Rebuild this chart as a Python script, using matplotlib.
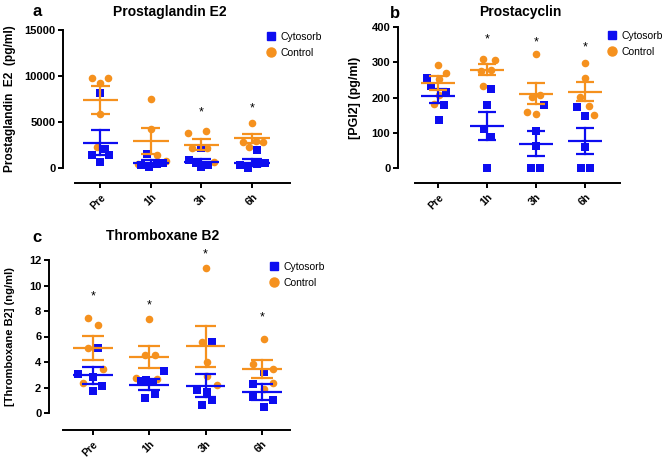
import matplotlib
matplotlib.use("Agg")
import matplotlib.pyplot as plt
from matplotlib.lines import Line2D

plt.rcParams['font.family'] = ['Liberation Sans', 'DejaVu Sans']

categories = ["Pre", "1h", "3h", "6h"]

# ---- Panel a: Prostaglandin E2 (pg/ml)
pge2_cyto = [[8190, 2030, 1410, 1410, 690],
             [1520, 330, 100, 430, 580],
             [2140, 870, 580, 110, 330],
             [1960, 330, 0, 430, 510]]
pge2_ctrl = [[9820, 9820, 9270, 5870, 2320],
             [7500, 4200, 1410, 430, 800],
             [3800, 4020, 2170, 2170, 650],
             [4860, 2860, 2860, 2250, 2900]]
pge2_cyto_mean = [2750, 560, 690, 580]
pge2_cyto_sem = [1380, 330, 340, 400]
pge2_ctrl_mean = [7390, 2930, 2530, 3230]
pge2_ctrl_sem = [1480, 1380, 620, 460]
pge2_stars = [None, None, 6040, 6500]

# ---- Panel b: Prostacyclin [PGI2] (pg/ml)
pgi2_cyto = [[256, 233, 216, 180, 137],
             [225, 178, 112, 88, 0],
             [178, 105, 61, 0, 0],
             [173, 148, 60, 0, 0]]
pgi2_ctrl = [[293, 270, 253, 206, 181],
             [310, 305, 279, 275, 232],
             [322, 201, 206, 159, 154],
             [298, 255, 201, 175, 149]]
pgi2_cyto_mean = [204, 119, 69, 77]
pgi2_cyto_sem = [21, 39, 35, 36]
pgi2_ctrl_mean = [241, 279, 211, 217]
pgi2_ctrl_sem = [21, 15, 30, 27]
pgi2_stars = [None, 365, 356, 343]

# ---- Panel c: Thromboxane B2 (ng/ml)
txb2_cyto = [[5.1, 3.09, 2.83, 2.1, 1.73],
             [3.3, 2.57, 2.5, 2.4, 1.2, 1.47],
             [5.53, 1.83, 1.65, 1.0, 0.6],
             [3.22, 2.3, 1.26, 1.0, 0.47]]
txb2_ctrl = [[7.47, 6.94, 5.1, 3.43, 2.36],
             [7.39, 4.58, 4.58, 2.78, 2.65],
             [11.4, 5.53, 4.0, 2.88, 2.23],
             [5.84, 3.82, 3.43, 2.38, 1.86]]
txb2_cyto_mean = [2.96, 2.23, 2.12, 1.65]
txb2_cyto_sem = [0.66, 0.42, 0.9, 0.64]
txb2_ctrl_mean = [5.08, 4.4, 5.22, 3.48]
txb2_ctrl_sem = [0.95, 0.85, 1.62, 0.7]
txb2_stars = [9.17, 8.46, 12.4, 7.47]

# ---- layout-only horizontal offsets of the dots (category units)
off_a_cyto = [[0, 0.1, -0.17, 0.17, 0], [-0.07, -0.2, -0.04, 0.12, 0.23],
              [0, -0.24, -0.1, 0, 0.12], [0.09, -0.24, -0.08, 0.09, 0.26]]
off_a_ctrl = [[-0.16, 0.16, 0, 0, -0.07], [0, 0, 0.12, -0.25, 0.3],
              [-0.26, 0.08, -0.18, 0.1, 0.24], [0, -0.17, 0.22, -0.07, 0.07]]
off_b_cyto = [[-0.22, -0.14, 0.17, 0.12, 0.02], [0.08, 0, -0.07, 0.08, 0],
              [0.16, 0, 0, -0.1, 0.07], [-0.17, 0, 0, -0.09, 0.09]]
off_b_ctrl = [[0, 0.17, 0.02, 0.02, -0.08], [-0.09, 0.17, 0.08, -0.12, -0.09],
              [0, -0.08, 0.08, -0.19, 0], [0, 0, -0.1, 0.07, 0.17]]
off_c_cyto = [[0.09, -0.26, 0, 0.17, 0], [0.26, -0.05, -0.14, 0.07, -0.08, 0.1],
              [0.11, -0.15, 0.03, 0.12, -0.06], [0.03, -0.15, -0.15, 0.2, 0.03]]
off_c_ctrl = [[-0.09, 0.09, -0.09, 0.18, -0.17], [0, -0.08, 0.1, -0.24, 0.14],
              [0, -0.06, 0.03, 0.03, 0.21], [0.03, -0.15, 0.2, 0.2, 0.03]]

BLUE = '#0d0df0'
ORANGE = '#f5911e'
W, H = 662, 463
fig = plt.figure(figsize=(W / 100, H / 100), dpi=100)


def rect(l, r, b, t):
    return [l / W, 1 - b / H, (r - l) / W, (b - t) / H]


def panel(px, xlim, ylim, yticks, ylab, title, cyto, ctrl, oc, oo,
          cm, cs, om, os_, stars, yout, xout, legend_xy, title_xy, label, label_xy,
          ylab_x, ylab_size):
    ax = fig.add_axes(rect(*px))
    for s in ['top', 'right']:
        ax.spines[s].set_visible(False)
    ax.spines['left'].set_position(('outward', yout * 0.72))
    ax.spines['bottom'].set_position(('outward', xout * 0.72))
    for s in ['left', 'bottom']:
        ax.spines[s].set_linewidth(1.4)
    ax.set_xlim(*xlim)
    ax.set_ylim(*ylim)
    ax.set_yticks(yticks)
    ax.set_xticks(range(len(categories)))
    ax.set_xticklabels(categories, rotation=45, ha='right', rotation_mode='anchor',
                       fontweight='bold', fontsize=7.5)
    for t in ax.get_yticklabels():
        t.set_fontweight('bold')
    ax.tick_params(axis='y', labelsize=8, length=3.5, width=1.4, pad=2)
    ax.tick_params(axis='x', length=3.5, width=1.4, pad=3)
    ax.patch.set_alpha(0)
    for i in range(len(categories)):
        ax.scatter([i + o for o in oo[i]], ctrl[i], s=30, marker='o', color=ORANGE,
                   linewidths=0, zorder=2, clip_on=False)
        ax.scatter([i + o for o in oc[i]], cyto[i], s=26, marker='s', color=BLUE,
                   linewidths=0, zorder=3, clip_on=False)
        for m, e, c, z in [(cm[i], cs[i], BLUE, 4), (om[i], os_[i], ORANGE, 5)]:
            ax.plot([i - 0.35, i + 0.35], [m, m], color=c, lw=1.6, zorder=z, solid_capstyle='butt')
            ax.plot([i, i], [m - e, m + e], color=c, lw=1.6, zorder=z)
            ax.plot([i - 0.19, i + 0.19], [m + e, m + e], color=c, lw=1.6, zorder=z, solid_capstyle='butt')
            ax.plot([i - 0.19, i + 0.19], [m - e, m - e], color=c, lw=1.6, zorder=z, solid_capstyle='butt')
        if stars[i] is not None:
            ax.text(i, stars[i], '*', ha='center', va='center', fontsize=9, clip_on=False)
    fig.text(ylab_x / W, 1 - (px[2] + px[3]) / 2 / H, ylab, rotation=90, ha='center',
             va='center', fontweight='bold', fontsize=ylab_size)
    fig.text(title_xy[0] / W, 1 - title_xy[1] / H, title, ha='center', va='center',
             fontweight='bold', fontsize=10)
    fig.text(label_xy[0] / W, 1 - label_xy[1] / H, label, ha='center', va='center',
             fontweight='bold', fontsize=12)
    handles = [Line2D([], [], marker='s', color=BLUE, ls='', markersize=6),
               Line2D([], [], marker='o', color=ORANGE, ls='', markersize=6.5)]
    ax.legend(handles, ['Cytosorb', 'Control'], loc='upper left', frameon=False,
              bbox_to_anchor=(legend_xy[0] / W, 1 - legend_xy[1] / H),
              bbox_transform=fig.transFigure, fontsize=7.5, handletextpad=0.3,
              labelspacing=0.55, borderaxespad=0, borderpad=0, handlelength=1.2)
    return ax


panel((75, 290, 168, 30), (-0.5, 3.75), (0, 15000), [0, 5000, 10000, 15000],
      'Prostaglandin  E2  (pg/ml)', 'Prostaglandin E2', pge2_cyto, pge2_ctrl,
      off_a_cyto, off_a_ctrl, pge2_cyto_mean, pge2_cyto_sem, pge2_ctrl_mean,
      pge2_ctrl_sem, pge2_stars, 12, 15, (265, 32), (170, 12), 'a', (37, 12), 10, 8.6)

panel((415, 620, 168, 27), (-0.47, 3.71), (0, 400), [0, 100, 200, 300, 400],
      '[PGI2] (pg/ml)', 'Prostacyclin', pgi2_cyto, pgi2_ctrl,
      off_b_cyto, off_b_ctrl, pgi2_cyto_mean, pgi2_cyto_sem, pgi2_ctrl_mean,
      pgi2_ctrl_sem, pgi2_stars, 17, 15, (606, 31), (520, 12), 'b', (395, 13), 355, 9)

panel((63, 290, 413, 260), (-0.53, 3.5), (0, 12), [0, 2, 4, 6, 8, 10, 12],
      '[Thromboxane B2] (ng/ml)', 'Thromboxane B2', txb2_cyto, txb2_ctrl,
      off_c_cyto, off_c_ctrl, txb2_cyto_mean, txb2_cyto_sem, txb2_ctrl_mean,
      txb2_ctrl_sem, txb2_stars, 14, 17, (268, 262), (163, 236), 'c', (37, 237), 10, 8)

fig.savefig('out.png', dpi=100)
